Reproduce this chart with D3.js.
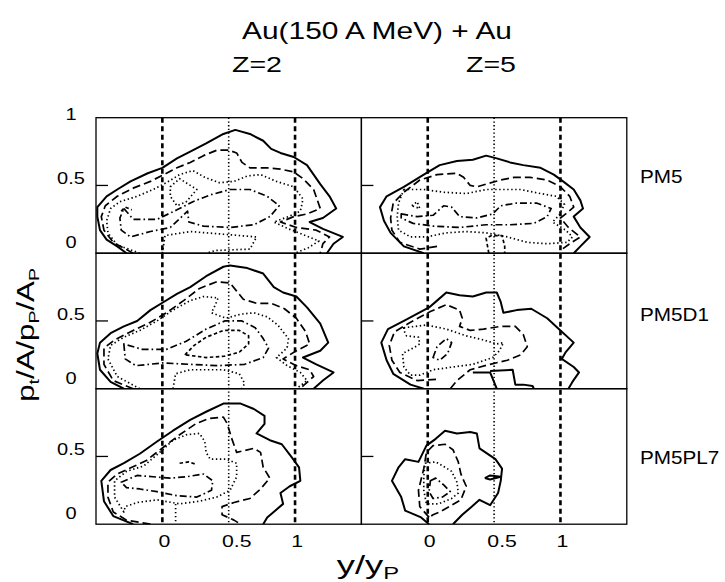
<!DOCTYPE html>
<html>
<head>
<meta charset="utf-8">
<script src="https://cdn.jsdelivr.net/npm/d3@7"></script>
<style>
  body { margin: 0; background: #fff; }
  svg { display: block; }
</style>
</head>
<body>
<svg id="chart"></svg>
<script>
// ---- data (x = y/yP, y = pt/A / pP/AP) ----
const rowNames = ["PM5", "PM5D1", "PM5PL7"]
const colNames = ["Z=2", "Z=5"]
const xTicks = [0, 0.5, 1]
const yTicksTop = [0, 0.5, 1]
const yTicksOther = [0, 0.5]
const refDashed = [0, 1]
const refDotted = [0.5]

// Z=2, PM5
const z2pm5Solid = [[-0.27,0],[-0.34,0.05],[-0.42,0.10],[-0.47,0.17],[-0.49,0.27],[-0.49,0.34],[-0.42,0.42],[-0.34,0.47],[-0.24,0.53],[-0.11,0.59],[0.0,0.63],[0.11,0.70],[0.21,0.75],[0.33,0.81],[0.46,0.88],[0.55,0.91],[0.66,0.88],[0.76,0.83],[0.82,0.77],[0.89,0.74],[0.99,0.71],[1.09,0.65],[1.19,0.51],[1.26,0.42],[1.31,0.33],[1.21,0.26],[1.11,0.23],[1.21,0.18],[1.36,0.12],[1.29,0.07],[1.24,0]]
const z2pm5Dash = [[-0.22,0],[-0.37,0.08],[-0.44,0.17],[-0.46,0.27],[-0.43,0.35],[-0.34,0.42],[-0.22,0.48],[-0.09,0.53],[0.01,0.58],[0.11,0.63],[0.21,0.67],[0.31,0.72],[0.41,0.76],[0.50,0.76],[0.56,0.74],[0.60,0.67],[0.66,0.63],[0.79,0.63],[0.89,0.62],[0.99,0.60],[1.06,0.55],[1.14,0.47],[1.19,0.33],[1.09,0.29],[0.99,0.27],[0.89,0.23],[1.01,0.19],[1.16,0.17],[1.26,0.12],[1.21,0.07],[1.19,0]]
const z2pm5Dot = [[-0.17,0],[-0.34,0.06],[-0.41,0.15],[-0.42,0.24],[-0.39,0.33],[-0.32,0.38],[-0.19,0.42],[-0.07,0.47],[0.03,0.52],[0.13,0.58],[0.23,0.61],[0.32,0.56],[0.43,0.52],[0.54,0.53],[0.64,0.57],[0.74,0.58],[0.86,0.53],[0.99,0.49],[1.06,0.40],[1.04,0.31],[0.95,0.27],[0.84,0.23],[0.95,0.18],[1.08,0.13],[1.18,0.09],[1.10,0.04],[1.0,0]]
const z2pm5DashDot = [[-0.29,0.33],[-0.22,0.25],[-0.04,0.25],[0.11,0.32],[0.23,0.38],[0.36,0.43],[0.51,0.47],[0.66,0.47],[0.79,0.42],[0.88,0.35],[0.81,0.27],[0.69,0.21],[0.51,0.19],[0.31,0.20],[0.20,0.23],[0.19,0.31],[0.06,0.19],[-0.09,0.16],[-0.24,0.12],[-0.31,0.17],[-0.32,0.26]]
const z2pm5Inner1 = [[0.06,0.49],[0.13,0.55],[0.26,0.47],[0.18,0.38],[0.11,0.35],[0.06,0.42]]
const z2pm5Inner2 = [[0.0,0],[0.02,0.13],[0.21,0.16],[0.46,0.14],[0.71,0.12],[0.66,0.03],[0.4,0.02],[0.33,0]]
const z2pm5Curl = [[-0.31,0.31],[-0.28,0.34],[-0.23,0.32]]

// Z=5, PM5
const z5pm5Solid = [[-0.03,0],[-0.18,0.05],[-0.28,0.15],[-0.33,0.24],[-0.36,0.34],[-0.31,0.42],[-0.18,0.49],[-0.03,0.58],[0.09,0.65],[0.22,0.68],[0.34,0.69],[0.44,0.72],[0.52,0.70],[0.62,0.67],[0.72,0.65],[0.85,0.63],[0.95,0.58],[1.02,0.53],[1.10,0.47],[1.15,0.39],[1.17,0.33],[1.10,0.27],[1.15,0.19],[1.22,0.12],[1.15,0.05],[1.10,0]]
const z5pm5Dash = [[0.07,0.05],[-0.06,0.03],[-0.21,0.08],[-0.27,0.17],[-0.28,0.26],[-0.26,0.37],[-0.18,0.45],[-0.06,0.54],[0.07,0.58],[0.22,0.59],[0.27,0.56],[0.32,0.50],[0.37,0.49],[0.44,0.51],[0.55,0.54],[0.65,0.56],[0.77,0.56],[0.90,0.54],[1.00,0.49],[1.07,0.42],[1.10,0.34],[1.04,0.29],[1.00,0.26],[1.06,0.19],[1.15,0.12],[1.07,0.07],[1.00,0.02]]
const z5pm5Dot = [[-0.18,0.47],[-0.03,0.47],[0.12,0.45],[0.29,0.44],[0.44,0.47],[0.55,0.47],[0.70,0.47],[0.85,0.44],[0.97,0.42],[1.03,0.36],[0.99,0.28],[0.94,0.23],[1.04,0.17],[1.09,0.12],[1.05,0.08],[0.90,0.07],[0.75,0.08],[0.60,0.12],[0.44,0.15],[0.29,0.16],[0.14,0.15],[-0.01,0.12],[-0.13,0.12],[-0.22,0.17],[-0.23,0.27],[-0.22,0.37]]
const z5pm5DashDot = [[-0.20,0.29],[-0.08,0.27],[0.04,0.28],[0.12,0.35],[0.18,0.34],[0.24,0.27],[0.37,0.26],[0.49,0.29],[0.55,0.35],[0.67,0.37],[0.82,0.37],[0.93,0.33],[0.90,0.27],[0.80,0.22],[0.62,0.21],[0.44,0.21],[0.24,0.19],[0.04,0.20],[-0.11,0.22],[-0.20,0.26]]
const z5pm5Inner1 = [[-0.12,0.35],[-0.08,0.38],[-0.06,0.33]]
const z5pm5Inner2 = [[0.46,0],[0.44,0.11],[0.48,0.13],[0.56,0.13],[0.58,0.05],[0.58,0]]

// Z=2, PM5D1
const z2pm5d1Solid = [[-0.29,0],[-0.39,0.05],[-0.47,0.14],[-0.49,0.26],[-0.47,0.34],[-0.39,0.41],[-0.29,0.46],[-0.19,0.50],[-0.09,0.58],[0.01,0.64],[0.11,0.70],[0.21,0.75],[0.33,0.83],[0.46,0.90],[0.51,0.91],[0.64,0.89],[0.76,0.85],[0.84,0.75],[0.91,0.71],[1.01,0.68],[1.09,0.60],[1.19,0.48],[1.25,0.34],[1.19,0.28],[1.06,0.23],[1.16,0.18],[1.29,0.12],[1.21,0.06],[1.14,0]]
const z2pm5d1Dash = [[-0.22,0],[-0.37,0.06],[-0.44,0.18],[-0.44,0.30],[-0.36,0.36],[-0.22,0.43],[-0.09,0.49],[0.03,0.56],[0.16,0.65],[0.28,0.74],[0.41,0.79],[0.51,0.78],[0.56,0.72],[0.61,0.66],[0.71,0.63],[0.82,0.63],[0.92,0.59],[1.01,0.52],[1.08,0.42],[1.11,0.33],[1.01,0.28],[0.91,0.22],[1.01,0.17],[1.11,0.14],[1.14,0.09],[1.06,0.02],[1.03,0]]
const z2pm5d1Dot = [[-0.17,0],[-0.34,0.09],[-0.41,0.22],[-0.39,0.32],[-0.29,0.38],[-0.17,0.43],[-0.04,0.50],[0.08,0.58],[0.21,0.65],[0.31,0.68],[0.42,0.67],[0.40,0.62],[0.37,0.56],[0.48,0.52],[0.59,0.55],[0.69,0.56],[0.79,0.53],[0.87,0.47],[0.95,0.37],[0.94,0.30],[0.86,0.23],[0.94,0.17],[1.04,0.12],[1.09,0.06],[1.01,0]]
const z2pm5d1DashDot = [[-0.29,0.33],[-0.28,0.22],[-0.2,0.17],[0.0,0.19],[0.2,0.18],[0.42,0.17],[0.62,0.18],[0.76,0.23],[0.8,0.3],[0.76,0.37],[0.70,0.45],[0.60,0.50],[0.47,0.50],[0.33,0.44],[0.18,0.35],[0.03,0.29],[-0.15,0.29]]
const z2pm5d1Inner1 = [[0.17,0.25],[0.24,0.32],[0.33,0.38],[0.46,0.43],[0.58,0.43],[0.65,0.39],[0.65,0.33],[0.58,0.27],[0.47,0.24],[0.33,0.23]]
const z2pm5d1Inner2 = [[0.08,0],[0.10,0.11],[0.21,0.14],[0.46,0.14],[0.58,0.11],[0.62,0.04],[0.6,0]]

// Z=5, PM5D1
const z5pm5d1Solid = [[-0.03,0],[-0.13,0.03],[-0.26,0.11],[-0.31,0.21],[-0.35,0.34],[-0.30,0.44],[-0.18,0.50],[0.01,0.60],[0.07,0.65],[0.14,0.71],[0.24,0.69],[0.34,0.68],[0.44,0.71],[0.52,0.71],[0.55,0.64],[0.57,0.56],[0.67,0.58],[0.78,0.59],[0.90,0.52],[1.00,0.43],[1.10,0.34],[1.04,0.27],[1.01,0.22],[1.10,0.16],[1.14,0.12],[1.09,0.05],[1.06,0]]
const z5pm5d1Solid2 = [[0.34,0.12],[0.47,0.12],[0.52,0]]
const z5pm5d1Solid3 = [[0.47,0.13],[0.64,0.14],[0.66,0.03],[0.72,0.03],[0.79,0.02],[0.8,0]]
const z5pm5d1Dash = [[0.17,0],[0.22,0.06],[0.32,0.14],[0.47,0.18],[0.60,0.21],[0.70,0.25],[0.75,0.31],[0.72,0.40],[0.66,0.46],[0.55,0.46],[0.42,0.44],[0.32,0.43],[0.24,0.46],[0.26,0.52],[0.24,0.58],[0.14,0.62],[0.02,0.57],[-0.13,0.49],[-0.25,0.42],[-0.29,0.32],[-0.27,0.21],[-0.21,0.12],[-0.08,0.06],[0.07,0.07]]
const z5pm5d1Dot = [[-0.18,0.45],[-0.01,0.47],[0.14,0.44],[0.29,0.39],[0.42,0.36],[0.52,0.33],[0.57,0.34],[0.54,0.28],[0.49,0.23],[0.34,0.18],[0.19,0.16],[0.04,0.14],[-0.06,0.10],[-0.13,0.10],[-0.18,0.16],[-0.19,0.26],[-0.11,0.30],[-0.06,0.33],[-0.07,0.38],[-0.16,0.39],[-0.18,0.43]]
const z5pm5d1DashDot = [[0.04,0.23],[0.07,0.31],[0.14,0.37],[0.18,0.34],[0.15,0.26],[0.09,0.21]]

// Z=2, PM5PL7
const z2pl7Solid = [[-0.22,0],[-0.37,0.06],[-0.44,0.17],[-0.46,0.32],[-0.39,0.40],[-0.29,0.45],[-0.17,0.52],[-0.04,0.61],[0.08,0.69],[0.21,0.77],[0.33,0.83],[0.46,0.89],[0.59,0.89],[0.69,0.85],[0.77,0.80],[0.77,0.74],[0.71,0.67],[0.81,0.62],[0.90,0.59],[0.97,0.50],[1.03,0.42],[1.04,0.32],[0.96,0.28],[0.89,0.23],[0.91,0.15],[0.85,0.10],[0.79,0.05],[0.76,0]]
const z2pl7Dash = [[-0.09,0],[-0.27,0.03],[-0.37,0.09],[-0.41,0.20],[-0.41,0.31],[-0.34,0.37],[-0.23,0.42],[-0.12,0.47],[0.01,0.57],[0.13,0.66],[0.25,0.74],[0.35,0.78],[0.46,0.79],[0.49,0.74],[0.52,0.64],[0.56,0.53],[0.69,0.56],[0.74,0.53],[0.76,0.42],[0.81,0.34],[0.74,0.26],[0.66,0.19],[0.54,0.16],[0.45,0.13],[0.45,0.07],[0.54,0.03],[0.59,0]]
const z2pl7Dot = [[-0.29,0.09],[-0.36,0.20],[-0.36,0.32],[-0.27,0.39],[-0.14,0.43],[-0.02,0.53],[0.08,0.62],[0.18,0.66],[0.28,0.67],[0.32,0.61],[0.33,0.53],[0.36,0.48],[0.48,0.48],[0.56,0.45],[0.56,0.35],[0.51,0.25],[0.41,0.20],[0.28,0.17],[0.13,0.15],[-0.04,0.18],[-0.19,0.16],[-0.28,0.13]]
const z2pl7DashDot = [[-0.31,0.31],[-0.19,0.36],[-0.07,0.35],[0.06,0.34],[0.18,0.35],[0.31,0.37],[0.38,0.32],[0.37,0.25],[0.26,0.20],[0.11,0.21],[-0.04,0.24],[-0.17,0.26],[-0.27,0.27]]
const z2pl7Inner1 = [[0.13,0.45],[0.2,0.46],[0.26,0.44]]
const z2pl7Inner2 = [[0.1,0.15],[0.1,0]]

// Z=5, PM5PL7
const z5pl7Solid = [[0.01,0],[-0.05,0.05],[-0.17,0.10],[-0.20,0.20],[-0.27,0.32],[-0.22,0.42],[-0.17,0.48],[-0.07,0.46],[-0.01,0.58],[0.06,0.63],[0.13,0.69],[0.22,0.67],[0.32,0.68],[0.37,0.67],[0.39,0.56],[0.51,0.48],[0.56,0.41],[0.55,0.32],[0.53,0.23],[0.47,0.14],[0.39,0.18],[0.32,0.12],[0.26,0.07],[0.19,0]]
const z5pl7Solid2 = [[0.43,0.34],[0.47,0.36],[0.55,0.35],[0.47,0.33],[0.43,0.34]]
const z5pl7Dash = [[0.01,0.05],[-0.06,0.13],[-0.07,0.25],[-0.03,0.41],[-0.01,0.53],[0.04,0.58],[0.13,0.59],[0.19,0.55],[0.23,0.46],[0.25,0.37],[0.29,0.28],[0.25,0.18],[0.18,0.14],[0.09,0.09],[0.04,0.07]]
const z5pl7Dot = [[-0.02,0.45],[0.06,0.46],[0.13,0.42],[0.18,0.39],[0.22,0.31],[0.23,0.23],[0.18,0.19],[0.08,0.15],[-0.01,0.15],[-0.03,0.25],[-0.03,0.35]]
const z5pl7DashDot = [[0.02,0.32],[0.06,0.34],[0.12,0.29],[0.17,0.24],[0.11,0.20],[0.04,0.19],[0.01,0.24]]

// [row, col, [style, points, closed]...]
const panels = [
  [0, 0, [["solid", z2pm5Solid, false], ["dash", z2pm5Dash, false], ["dot", z2pm5Dot, false],
          ["dashdot", z2pm5DashDot, true], ["dot", z2pm5Inner1, true], ["dot", z2pm5Inner2, false], ["sdash", z2pm5Curl, false]]],
  [0, 1, [["solid", z5pm5Solid, false], ["dash", z5pm5Dash, false], ["dot", z5pm5Dot, true],
          ["dashdot", z5pm5DashDot, true], ["dot", z5pm5Inner1, true], ["sdash", z5pm5Inner2, false]]],
  [1, 0, [["solid", z2pm5d1Solid, false], ["dash", z2pm5d1Dash, false], ["dot", z2pm5d1Dot, false],
          ["dashdot", z2pm5d1DashDot, true], ["sdash", z2pm5d1Inner1, true], ["dot", z2pm5d1Inner2, false]]],
  [1, 1, [["solid", z5pm5d1Solid, false], ["solid", z5pm5d1Solid2, false], ["solid", z5pm5d1Solid3, false],
          ["dash", z5pm5d1Dash, false], ["dot", z5pm5d1Dot, true], ["dashdot", z5pm5d1DashDot, true]]],
  [2, 0, [["solid", z2pl7Solid, false], ["dash", z2pl7Dash, false], ["dot", z2pl7Dot, true],
          ["dashdot", z2pl7DashDot, true], ["sdash", z2pl7Inner1, false], ["dot", z2pl7Inner2, false]]],
  [2, 1, [["solid", z5pl7Solid, false], ["solid", z5pl7Solid2, false], ["dash", z5pl7Dash, true],
          ["dot", z5pl7Dot, true], ["dashdot", z5pl7DashDot, true]]]
]

// ---- layout ----
const width = 725, height = 582
const font = "'Liberation Sans', Arial, Helvetica, sans-serif"
const plotLeft = 96, plotTop = 117.7
const panelW = 265.4, panelH = 135.5
const dashes = { solid: null, dash: "8,4", dot: "1.4,2.6", dashdot: "7,3,1.6,3", sdash: "3.5,2.5" }

const svg = d3.select("#chart")
  .attr("width", width)
  .attr("height", height)
  .attr("viewBox", [0, 0, width, height])

const x = d3.scaleLinear().domain([-0.5, 1.5]).range([0, panelW])
const y = d3.scaleLinear().domain([0, 1]).range([panelH, 0])

const label = (g, str, px, py, size, sx = 1.3, anchor = "middle") =>
  g.append("text")
    .attr("transform", `translate(${px},${py}) scale(${sx},1)`)
    .attr("text-anchor", anchor)
    .attr("font-family", font)
    .attr("font-size", size)
    .attr("fill", "#000")
    .text(str)

svg.append("defs").append("clipPath").attr("id", "panel-clip")
  .append("rect").attr("width", panelW).attr("height", panelH)

const lineOpen = d3.line().x(d => x(d[0])).y(d => y(d[1]))
const lineClosed = d3.line().x(d => x(d[0])).y(d => y(d[1])).curve(d3.curveLinearClosed)

// contour panels
panels.forEach(([r, c, lines]) => {
  const g = svg.append("g")
    .attr("transform", `translate(${plotLeft + c * panelW},${plotTop + r * panelH})`)

  g.append("g").attr("clip-path", "url(#panel-clip)")
    .selectAll("path")
    .data(lines)
    .join("path")
    .attr("d", d => (d[2] ? lineClosed : lineOpen)(d[1]))
    .attr("fill", "none")
    .attr("stroke", "#000")
    .attr("stroke-width", d => d[0] === "solid" ? 2 : 1.7)
    .attr("stroke-linejoin", "round")
    .attr("stroke-dasharray", d => dashes[d[0]])

  g.append("rect")
    .attr("width", panelW).attr("height", panelH)
    .attr("fill", "none").attr("stroke", "#000").attr("stroke-width", 1.3)

  // tick at 0.5 on the left edge
  g.append("line")
    .attr("x1", 0).attr("x2", 12)
    .attr("y1", y(0.5)).attr("y2", y(0.5))
    .attr("stroke", "#000").attr("stroke-width", 1.3)
})

// reference lines through all rows
colNames.forEach((name, c) => {
  const g = svg.append("g").attr("transform", `translate(${plotLeft + c * panelW},${plotTop})`)
  g.selectAll("line.ref")
    .data(refDashed.map(v => [v, "5,3.5", 2.6]).concat(refDotted.map(v => [v, "1.3,2.4", 1.6])))
    .join("line")
    .attr("class", "ref")
    .attr("x1", d => x(d[0])).attr("x2", d => x(d[0]))
    .attr("y1", 0).attr("y2", 3 * panelH)
    .attr("stroke", "#000")
    .attr("stroke-width", d => d[2])
    .attr("stroke-dasharray", d => d[1])

  // x tick labels under bottom row
  xTicks.forEach(v => {
    label(g, String(v), x(v) + (v === 0.5 ? 8 : 2), 3 * panelH + 23, 17, 1.25)
  })
})

// y tick labels
rowNames.forEach((name, r) => {
  const ticks = r === 0 ? yTicksTop : yTicksOther
  ticks.forEach(v => {
    label(svg, String(v), 71, plotTop + r * panelH + y(v) + (v === 1 ? 2 : v === 0 ? -5 : -1), 16, 1.25)
  })
  label(svg, name, 640, plotTop + r * panelH + [65, 68, 75][r], 18, 1.15, "start")
})

// titles
label(svg, "Au(150 A MeV) + Au", 377, 39, 23, 1.3)
label(svg, colNames[0], 257, 72, 22, 1.3)
label(svg, colNames[1], 491, 72, 22, 1.3)

// axis titles with subscripts
const xTitle = svg.append("text")
  .attr("transform", "translate(368,574) scale(1.4,1)")
  .attr("text-anchor", "middle")
  .attr("font-family", font).attr("font-size", 26).attr("fill", "#000")
xTitle.append("tspan").text("y/y")
xTitle.append("tspan").attr("font-size", 17).attr("dy", 5).text("P")

const yTitle = svg.append("text")
  .attr("transform", "translate(34,335) rotate(-90) scale(1.3,1)")
  .attr("text-anchor", "middle")
  .attr("font-family", font).attr("font-size", 24).attr("fill", "#000")
const yParts = [["p", 0], ["t", 1], ["/A/p", 0], ["P", 1], ["/A", 0], ["P", 1]]
let prevSub = 0
yParts.forEach(([t, sub]) => {
  yTitle.append("tspan")
    .attr("font-size", sub ? 15 : 24)
    .attr("dy", (sub - prevSub) * 5)
    .text(t)
  prevSub = sub
})
</script>
</body>
</html>
